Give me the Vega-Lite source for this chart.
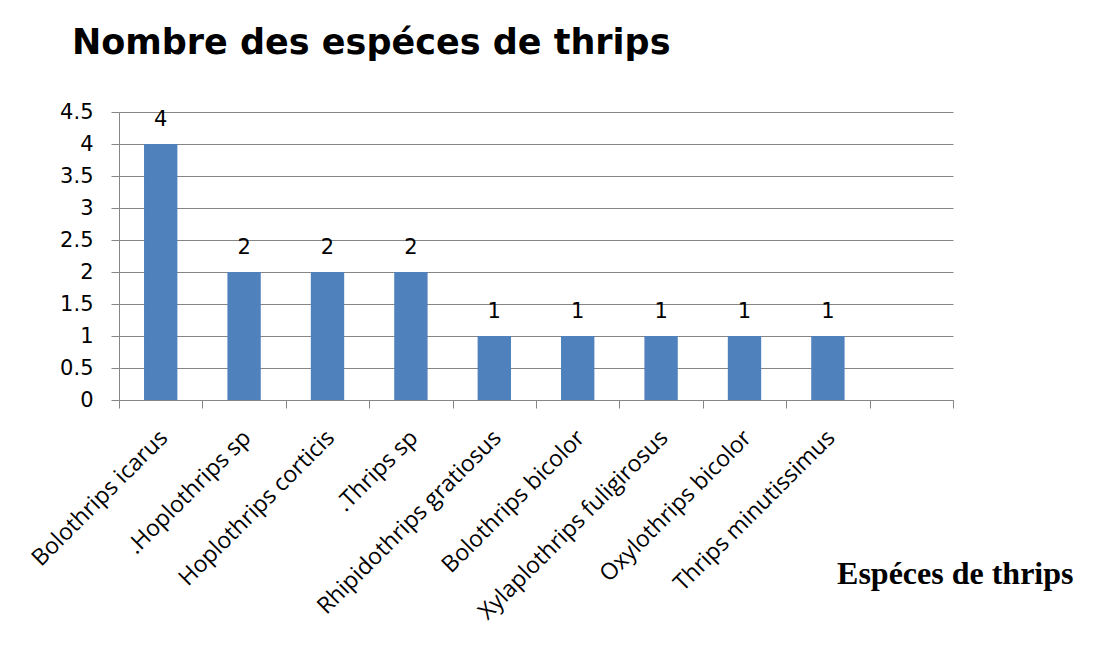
{
  "$schema": "https://vega.github.io/schema/vega-lite/v6.json",
  "width": 834,
  "height": 288,
  "autosize": {"type": "none"},
  "padding": {"left": 119, "top": 112, "right": 153, "bottom": 255},
  "background": "white",
  "title": {
    "text": "Nombre des espéces de thrips",
    "anchor": "start",
    "frame": "group",
    "dx": -47,
    "offset": 12,
    "baseline": "alphabetic",
    "font": "DejaVu Sans",
    "fontWeight": "bold",
    "fontSize": 35,
    "color": "black"
  },
  "data": {
    "values": [
      {"espece": "Bolothrips icarus", "n": 4},
      {"espece": ".Hoplothrips sp", "n": 2},
      {"espece": "Hoplothrips corticis", "n": 2},
      {"espece": ".Thrips sp", "n": 2},
      {"espece": "Rhipidothrips gratiosus", "n": 1},
      {"espece": "Bolothrips bicolor", "n": 1},
      {"espece": "Xylaplothrips fuligirosus", "n": 1},
      {"espece": "Oxylothrips bicolor", "n": 1},
      {"espece": "Thrips minutissimus", "n": 1}
    ]
  },
  "encoding": {
    "x": {
      "field": "espece",
      "type": "nominal",
      "sort": null,
      "scale": {
        "domain": ["Bolothrips icarus", ".Hoplothrips sp", "Hoplothrips corticis", ".Thrips sp", "Rhipidothrips gratiosus", "Bolothrips bicolor", "Xylaplothrips fuligirosus", "Oxylothrips bicolor", "Thrips minutissimus", " "],
        "paddingInner": 0,
        "paddingOuter": 0
      },
      "axis": {
        "title": "Espéces de thrips",
        "titleFont": "Liberation Serif",
        "titleFontSize": 32,
        "titleFontWeight": "bold",
        "titleColor": "black",
        "titleX": 954,
        "titleY": 183,
        "titleAlign": "right",
        "titleBaseline": "alphabetic",
        "titleAngle": 0,
        "labelAngle": -45,
        "labelAlign": "right",
        "labelBaseline": "top",
        "labelPadding": 18,
        "labelOffset": -5,
        "labelFont": "Open Sans",
        "labelFontSize": 23,
        "labelColor": "black",
        "labelOverlap": false,
        "labelLimit": 0,
        "tickBand": "extent",
        "tickSize": 8,
        "tickColor": "#868686",
        "domainColor": "#868686",
        "grid": false
      }
    },
    "y": {
      "field": "n",
      "type": "quantitative",
      "scale": {"domain": [0, 4.5], "nice": false},
      "axis": {
        "title": null,
        "values": [0, 0.5, 1, 1.5, 2, 2.5, 3, 3.5, 4, 4.5],
        "format": "~g",
        "labelFont": "DejaVu Sans",
        "labelFontSize": 21,
        "labelColor": "black",
        "labelPadding": 18,
        "tickSize": 8,
        "tickColor": "#868686",
        "domainColor": "#868686",
        "gridColor": "#868686",
        "gridOpacity": 1
      }
    }
  },
  "layer": [
    {"mark": {"type": "bar", "color": "#4f81bd", "width": {"band": 0.4}}},
    {
      "mark": {"type": "text", "dy": -18, "baseline": "alphabetic", "font": "DejaVu Sans", "fontSize": 21, "color": "black"},
      "encoding": {"text": {"field": "n", "type": "quantitative"}}
    }
  ],
  "config": {"view": {"stroke": null}}
}
